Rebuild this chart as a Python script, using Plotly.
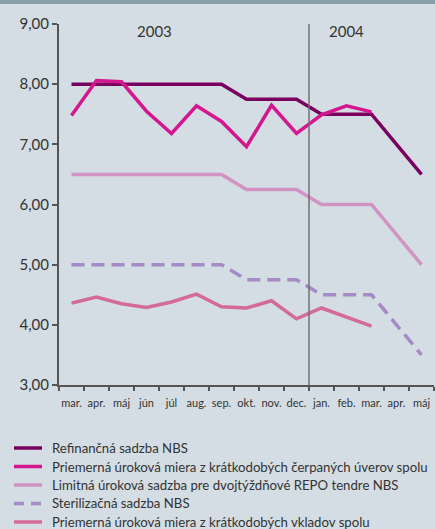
import plotly.graph_objects as go

months = ["mar.", "apr.", "máj", "jún", "júl", "aug.", "sep.", "okt.", "nov.", "dec.",
          "jan.", "feb.", "mar.", "apr.", "máj"]
years = ["2003", "2004"]

refinancna = [8.0, 8.0, 8.0, 8.0, 8.0, 8.0, 8.0, 7.75, 7.75, 7.75, 7.5, 7.5, 7.5, 7.0, 6.5]
uvery = [7.48, 8.06, 8.04, 7.55, 7.18, 7.64, 7.38, 6.96, 7.65, 7.18, 7.49, 7.64, 7.54]
limitna = [6.5, 6.5, 6.5, 6.5, 6.5, 6.5, 6.5, 6.25, 6.25, 6.25, 6.0, 6.0, 6.0, 5.5, 5.0]
sterilizacna = [5.0, 5.0, 5.0, 5.0, 5.0, 5.0, 5.0, 4.75, 4.75, 4.75, 4.5, 4.5, 4.5, 4.0, 3.5]
vklady = [4.36, 4.46, 4.35, 4.29, 4.38, 4.51, 4.30, 4.28, 4.40, 4.10, 4.28, 4.13, 3.98]

names = [
    "Refinančná sadzba NBS",
    "Priemerná úroková miera z krátkodobých čerpaných úverov spolu",
    "Limitná úroková sadzba pre dvojtýždňové REPO tendre NBS",
    "Sterilizačná sadzba NBS",
    "Priemerná úroková miera z krátkodobých vkladov spolu",
]
colors = ["#7a0060", "#d4178f", "#d192c4", "#a48ac6", "#d4699c"]
series = [refinancna, uvery, limitna, sterilizacna, vklady]
dashes = ["solid", "solid", "solid", "13px,7px", "solid"]
legend_dashes = ["solid", "solid", "solid", "10px,7px", "solid"]

fig = go.Figure()
for nm, vals, col, ds in zip(names, series, colors, dashes):
    fig.add_trace(go.Scatter(
        x=list(range(len(vals))), y=vals, name=nm, mode="lines",
        line=dict(color=col, width=3.5, dash=ds), showlegend=False,
    ))

W, H = 435, 529
ml, mr, mt, mb = 59, 1, 24, 144
pw, ph = W - ml - mr, H - mt - mb


def px_x(px):
    return (px - ml) / pw


def px_y(py):
    return (mt + ph - py) / ph


shapes = [
    dict(type="rect", xref="paper", yref="paper",
         x0=px_x(0), x1=px_x(W), y0=px_y(4), y1=px_y(0),
         fillcolor="#8a9fac", line=dict(width=0), layer="above"),
    dict(type="line", xref="x", yref="y", x0=9.5, x1=9.5, y0=3, y1=9,
         line=dict(color="#707070", width=1.5)),
]
annotations = [
    dict(text=years[0], x=3.3, y=8.88, xref="x", yref="y", showarrow=False,
         font=dict(size=15, color="#333333")),
    dict(text=years[1], x=11.0, y=8.88, xref="x", yref="y", showarrow=False,
         font=dict(size=15, color="#333333")),
]

# legend block
leg_y0, leg_dy = 448, 18.5
for i, (nm, col, ds) in enumerate(zip(names, colors, legend_dashes)):
    yy = leg_y0 + i * leg_dy
    shapes.append(dict(type="line", xref="paper", yref="paper",
                       x0=px_x(14), x1=px_x(42), y0=px_y(yy), y1=px_y(yy),
                       line=dict(color=col, width=3.5, dash=ds)))
    annotations.append(dict(text=nm, xref="paper", yref="paper",
                            x=px_x(50), y=px_y(yy), xanchor="left", yanchor="middle",
                            showarrow=False,
                            font=dict(size=13.2, color="#333333", family="Lato")))

fig.update_layout(
    width=W, height=H,
    margin=dict(l=ml, r=mr, t=mt, b=mb, autoexpand=False),
    paper_bgcolor="#d4dde3", plot_bgcolor="#d4dde3",
    separators=", ",
    font=dict(family="Lato", color="#333333"),
    showlegend=False,
    xaxis=dict(
        range=[-0.5, 14.5],
        tickmode="array",
        tickvals=list(range(len(months))),
        ticktext=months,
        ticks="outside", ticklen=7, tickcolor="rgba(0,0,0,0)",
        tickfont=dict(size=11, color="#333333"),
        showgrid=False, zeroline=False,
        showline=True, linecolor="#555555", linewidth=2,
        minor=dict(tickmode="array", tickvals=[i + 0.5 for i in range(-1, 15)],
                   ticks="outside", ticklen=4, tickwidth=1.5, tickcolor="#555555",
                   showgrid=False),
        fixedrange=True,
    ),
    yaxis=dict(
        range=[3, 9],
        tickmode="array",
        tickvals=[3, 4, 5, 6, 7, 8, 9],
        tickformat=".2f",
        ticks="outside", ticklen=5, tickwidth=1.5, tickcolor="#555555",
        tickfont=dict(size=15, color="#333333"),
        showgrid=False, zeroline=False,
        showline=True, linecolor="#555555", linewidth=2,
        fixedrange=True,
    ),
    shapes=shapes,
    annotations=annotations,
)

fig.write_html(
    "out.html",
    config={"displayModeBar": False},
    post_script="document.body.style.margin='0';document.body.style.overflow='hidden';",
)
